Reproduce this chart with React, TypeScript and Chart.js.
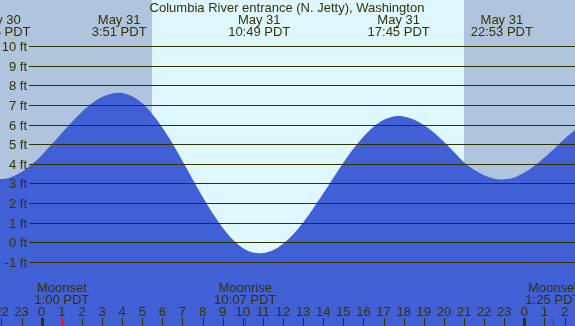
import { useEffect, useRef } from 'react';
import { Chart, registerables } from 'chart.js';

Chart.register(...registerables);

const title = 'Columbia River entrance (N. Jetty), Washington';

// tide curve (hours since midnight May 31, feet)
const tideHours = [
  -3, -2.5, -2, -1.5, -1, -0.5, 0, 0.5, 1, 1.5, 2, 2.5, 3, 3.5, 3.85,
  4, 4.5, 5, 5.5, 6, 6.5, 7, 7.5, 8, 8.5, 9, 9.5, 10, 10.5, 10.82,
  11, 11.5, 12, 12.5, 13, 13.5, 14, 14.5, 15, 15.5, 16, 16.5, 17, 17.5, 17.75,
  18, 18.5, 19, 19.5, 20, 20.5, 21, 21.5, 22, 22.5, 22.88,
  23, 23.5, 24, 24.5, 25, 25.5, 26, 26.5, 27,
];
const tideHeights = [
  3.3, 3.27, 3.22, 3.33, 3.58, 3.96, 4.44, 4.99, 5.57, 6.13, 6.65, 7.08, 7.4, 7.58, 7.62,
  7.61, 7.44, 7.08, 6.54, 5.85, 5.04, 4.14, 3.23, 2.32, 1.48, 0.74, 0.14, -0.29, -0.52, -0.56,
  -0.55, -0.4, -0.07, 0.4, 1.01, 1.72, 2.48, 3.27, 4.05, 4.76, 5.38, 5.89, 6.23, 6.41, 6.43,
  6.41, 6.26, 5.98, 5.59, 5.12, 4.6, 4.08, 3.7, 3.42, 3.24, 3.2,
  3.21, 3.3, 3.55, 3.9, 4.32, 4.78, 5.28, 5.7, 6.1,
];

const gridFeet = [-1, 0, 1, 2, 3, 4, 5, 6, 7, 8, 9, 10];
const gridLabels = ['-1 ft', '0 ft', '1 ft', '2 ft', '3 ft', '4 ft', '5 ft', '6 ft', '7 ft', '8 ft', '9 ft', '10 ft'];

const extremeHours = [-2.1, 3.85, 10.817, 17.75, 22.883];
const extremeDates = ['May 30', 'May 31', 'May 31', 'May 31', 'May 31'];
const extremeTimes = ['21:55 PDT', '3:51 PDT', '10:49 PDT', '17:45 PDT', '22:53 PDT'];

const sunriseHour = 5.48;
const sunsetHour = 21.0;

const moonHours = [1.0, 10.117, 25.417];
const moonEvents = ['Moonset', 'Moonrise', 'Moonset'];
const moonTimes = ['1:00 PDT', '10:07 PDT', '1:25 PDT'];

const hourTicks = [-2, -1, 0, 1, 2, 3, 4, 5, 6, 7, 8, 9, 10, 11, 12, 13, 14, 15, 16, 17, 18, 19, 20, 21, 22, 23, 24, 25, 26];
const hourLabels = ['22', '23', '0', '1', '2', '3', '4', '5', '6', '7', '8', '9', '10', '11', '12', '13', '14', '15', '16', '17', '18', '19', '20', '21', '22', '23', '0', '1', '2'];
const midnightHours = [0, 24];

const X_MIN = -2.074;
const X_MAX = 26.52;
const Y_MIN = -4.264;
const Y_MAX = 12.343;

const NIGHT = '#b0c4de';
const DAY = '#dff7fe';
const WATER = 'rgb(65,96,214)';
const INK = '#333300';
const FONT = '13px "Liberation Sans", Arial, sans-serif';

const tidePlugin = {
  id: 'tideDecor',
  beforeDatasetsDraw(chart: any) {
    const { ctx, width, height } = chart;
    const xs = chart.scales.x;
    ctx.save();
    ctx.fillStyle = NIGHT;
    ctx.fillRect(0, 0, width, height);
    const x1 = Math.round(xs.getPixelForValue(sunriseHour));
    const x2 = Math.round(xs.getPixelForValue(sunsetHour));
    ctx.fillStyle = DAY;
    ctx.fillRect(x1, 0, x2 - x1, height);
    ctx.restore();
  },
  afterDatasetsDraw(chart: any) {
    const { ctx, width } = chart;
    const xs = chart.scales.x;
    const ys = chart.scales.y;
    ctx.save();
    ctx.strokeStyle = INK;
    ctx.lineWidth = 1;
    gridFeet.forEach((f, i) => {
      const y = Math.round(ys.getPixelForValue(f)) + 0.5;
      ctx.beginPath();
      ctx.moveTo(29, y);
      ctx.lineTo(width, y);
      ctx.stroke();
      ctx.fillStyle = INK;
      ctx.font = FONT;
      ctx.textAlign = 'right';
      ctx.textBaseline = 'alphabetic';
      ctx.fillText(gridLabels[i], 27, y + 4.5);
    });
    ctx.font = FONT;
    ctx.fillStyle = INK;
    ctx.textAlign = 'center';
    ctx.textBaseline = 'alphabetic';
    ctx.fillText(title, 287, 12);
    extremeHours.forEach((h, i) => {
      const x = xs.getPixelForValue(h);
      ctx.fillText(extremeDates[i], x, 24);
      ctx.fillText(extremeTimes[i], x, 36);
    });
    moonHours.forEach((h, i) => {
      const x = xs.getPixelForValue(h);
      ctx.fillText(moonEvents[i], x, 291.5);
      ctx.fillText(moonTimes[i], x, 304);
    });
    hourTicks.forEach((h, i) => {
      const x = xs.getPixelForValue(h);
      ctx.fillStyle = INK;
      ctx.fillText(hourLabels[i], x, 316);
      ctx.fillRect(Math.round(x), 318, 1, 8);
    });
    midnightHours.forEach((h) => {
      const x = xs.getPixelForValue(h);
      ctx.fillStyle = INK;
      ctx.fillRect(Math.round(x) - 1, 318, 3, 8);
    });
    moonHours.forEach((h) => {
      const x = xs.getPixelForValue(h);
      ctx.fillStyle = '#ff0000';
      ctx.fillRect(Math.round(x), 318, 1, 8);
    });
    ctx.restore();
  },
};

export default function App() {
  const ref = useRef<HTMLCanvasElement>(null);
  useEffect(() => {
    document.body.style.margin = '0';
    const chart = new Chart(ref.current as HTMLCanvasElement, {
      type: 'line',
      data: {
        datasets: [
          {
            data: tideHours.map((h, i) => ({ x: h, y: tideHeights[i] })),
            backgroundColor: WATER,
            borderWidth: 0,
            pointRadius: 0,
            fill: 'start',
            cubicInterpolationMode: 'monotone',
          },
        ],
      },
      options: {
        animation: false,
        responsive: false,
        layout: { padding: 0 },
        plugins: { legend: { display: false }, tooltip: { enabled: false } },
        scales: {
          x: { type: 'linear', min: X_MIN, max: X_MAX, display: false },
          y: { type: 'linear', min: Y_MIN, max: Y_MAX, display: false },
        },
      },
      plugins: [tidePlugin],
    });
    return () => chart.destroy();
  }, []);
  return (
    <div style={{ position: 'absolute', left: 0, top: 0, width: 575, height: 326 }}>
      <canvas ref={ref} width={575} height={326} style={{ display: 'block' }} />
    </div>
  );
}
